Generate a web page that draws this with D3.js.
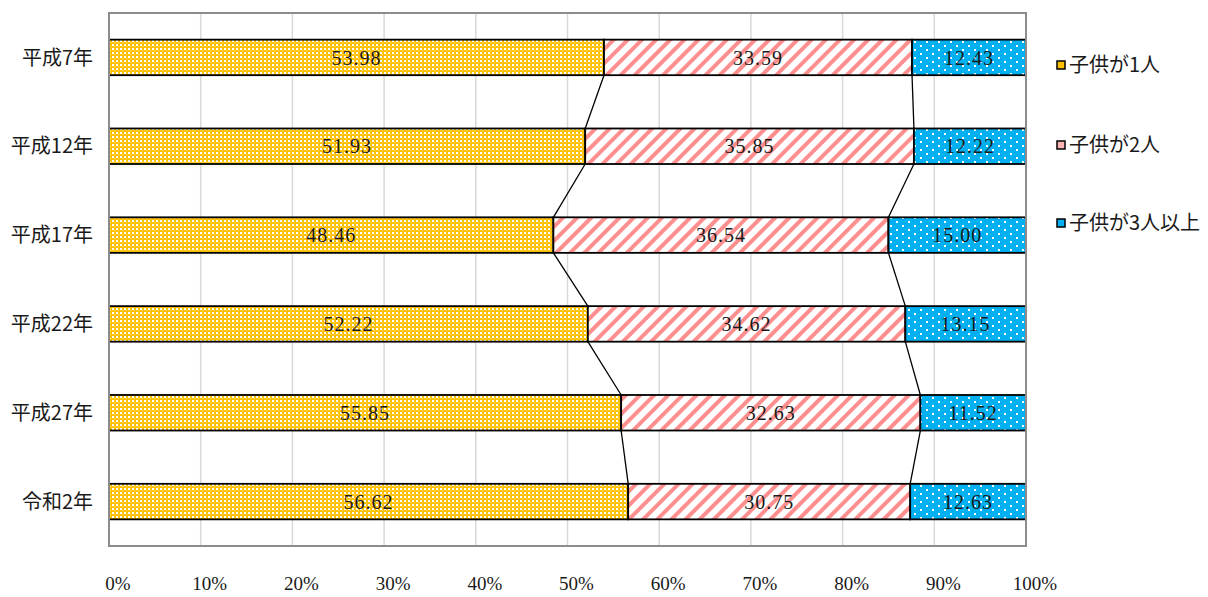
<!DOCTYPE html>
<html>
<head>
<meta charset="utf-8">
<script src="https://cdn.jsdelivr.net/npm/d3@7"></script>
<style>
  html, body { margin: 0; padding: 0; background: #fff; }
  svg { display: block; }
</style>
</head>
<body>
<div id="chart"></div>
<script>
// Households by number of children, share (%) per survey year
const years = ["平成7年", "平成12年", "平成17年", "平成22年", "平成27年", "令和2年"];
const seriesNames = ["子供が1人", "子供が2人", "子供が3人以上"];
const oneChild   = [53.98, 51.93, 48.46, 52.22, 55.85, 56.62];
const twoChildren = [33.59, 35.85, 36.54, 34.62, 32.63, 30.75];
const threePlus  = [12.43, 12.22, 15.00, 13.15, 11.52, 12.63];
const tickValues = [0, 10, 20, 30, 40, 50, 60, 70, 80, 90, 100];

const W = 1208, H = 597;
const plot = { left: 109, right: 1026, top: 13, bottom: 546 };

const svg = d3.select("#chart").append("svg")
  .attr("width", W).attr("height", H);

const serif = "'Liberation Serif', 'DejaVu Serif', 'Noto Sans CJK JP', serif";
const jp = "'Noto Sans CJK JP', 'Liberation Serif', serif";

// Fill patterns
const defs = svg.append("defs");

const pYellow = defs.append("pattern").attr("id", "pat-yellow")
  .attr("patternUnits", "userSpaceOnUse").attr("width", 4).attr("height", 4);
pYellow.append("rect").attr("width", 4).attr("height", 4).attr("fill", "#FFC000");
pYellow.append("rect").attr("x", 0).attr("y", 0).attr("width", 2).attr("height", 2).attr("fill", "#ffffff");
pYellow.append("rect").attr("x", 2).attr("y", 2).attr("width", 1).attr("height", 1).attr("fill", "#FFE38A");

const pPink = defs.append("pattern").attr("id", "pat-pink")
  .attr("patternUnits", "userSpaceOnUse").attr("width", 10).attr("height", 10)
  .attr("patternTransform", "rotate(45)");
pPink.append("rect").attr("width", 10).attr("height", 10).attr("fill", "#ffffff");
pPink.append("rect").attr("x", 0).attr("y", 0).attr("width", 4).attr("height", 10).attr("fill", "#FF8F8F");

const pBlue = defs.append("pattern").attr("id", "pat-blue")
  .attr("patternUnits", "userSpaceOnUse").attr("width", 12).attr("height", 8);
pBlue.append("rect").attr("width", 12).attr("height", 8).attr("fill", "#00B0F0");
pBlue.append("rect").attr("x", 2).attr("y", 1).attr("width", 2).attr("height", 2).attr("fill", "#ffffff");
pBlue.append("rect").attr("x", 8).attr("y", 5).attr("width", 2).attr("height", 2).attr("fill", "#ffffff");

const fills = ["url(#pat-yellow)", "url(#pat-pink)", "url(#pat-blue)"];
const swatchFills = ["#FFC000", "#FFB3B3", "#00B0F0"];

// Scales
const x = d3.scaleLinear().domain([0, 100]).range([plot.left, plot.right]);
const y = d3.scaleBand().domain(years).range([plot.top, plot.bottom]).paddingInner(0.6).paddingOuter(0.3);

// Gridlines
svg.append("g").selectAll("line").data(tickValues.slice(1, -1)).join("line")
  .attr("x1", d => x(d)).attr("x2", d => x(d))
  .attr("y1", plot.top).attr("y2", plot.bottom)
  .attr("stroke", "#d9d9d9").attr("stroke-width", 1.5);

// Stack data
const rows = years.map((yr, i) => ({ year: yr, v: [oneChild[i], twoChildren[i], threePlus[i]] }));
rows.forEach(r => {
  let acc = 0;
  r.segs = r.v.map((v, k) => { const s = { k, x0: acc, x1: acc + v, v }; acc += v; return s; });
});

// Connector lines between consecutive bars at the segment boundaries
const conn = svg.append("g");
for (let i = 0; i < rows.length - 1; i++) {
  for (let k = 0; k < 2; k++) {
    conn.append("line")
      .attr("x1", x(rows[i].segs[k].x1)).attr("y1", y(rows[i].year) + y.bandwidth())
      .attr("x2", x(rows[i + 1].segs[k].x1)).attr("y2", y(rows[i + 1].year))
      .attr("stroke", "#000").attr("stroke-width", 1.3);
  }
}

// Bars
const g = svg.append("g");
rows.forEach(r => {
  g.selectAll(null).data(r.segs).join("rect")
    .attr("x", d => x(d.x0)).attr("width", d => x(d.x1) - x(d.x0))
    .attr("y", y(r.year)).attr("height", y.bandwidth())
    .attr("fill", d => fills[d.k])
    .attr("stroke", "#000").attr("stroke-width", 1.8);
  g.selectAll(null).data(r.segs).join("text")
    .attr("x", d => (x(d.x0) + x(d.x1)) / 2)
    .attr("y", y(r.year) + y.bandwidth() / 2)
    .attr("dy", "0.36em")
    .attr("text-anchor", "middle")
    .attr("font-family", serif).attr("font-size", 20)
    .attr("letter-spacing", 1)
    .attr("fill", "#1a1a1a")
    .text(d => d.v.toFixed(2));
});

// Plot border
svg.append("rect")
  .attr("x", plot.left).attr("y", plot.top)
  .attr("width", plot.right - plot.left).attr("height", plot.bottom - plot.top)
  .attr("fill", "none").attr("stroke", "#8c8c8c").attr("stroke-width", 2);

// Category labels
svg.append("g").selectAll("text").data(years).join("text")
  .attr("x", 93).attr("y", d => y(d) + y.bandwidth() / 2)
  .attr("dy", "0.36em").attr("text-anchor", "end")
  .attr("font-family", jp).attr("font-size", 20).attr("fill", "#1a1a1a")
  .text(d => d);

// Percentage axis labels
svg.append("g").selectAll("text").data(tickValues).join("text")
  .attr("x", d => x(d) + 9).attr("y", 583)
  .attr("dy", "0.36em").attr("text-anchor", "middle")
  .attr("font-family", serif).attr("font-size", 19).attr("fill", "#1a1a1a")
  .text(d => d + "%");

// Legend
const legY = [65, 145, 223];
const leg = svg.append("g");
seriesNames.forEach((name, k) => {
  leg.append("rect")
    .attr("x", 1057).attr("y", legY[k] - 4).attr("width", 8).attr("height", 8)
    .attr("fill", swatchFills[k]).attr("stroke", "#000").attr("stroke-width", 1.5);
  leg.append("text")
    .attr("x", 1069).attr("y", legY[k])
    .attr("dy", "0.36em")
    .attr("font-family", jp).attr("font-size", 20).attr("fill", "#1a1a1a")
    .text(name);
});
</script>
</body>
</html>
